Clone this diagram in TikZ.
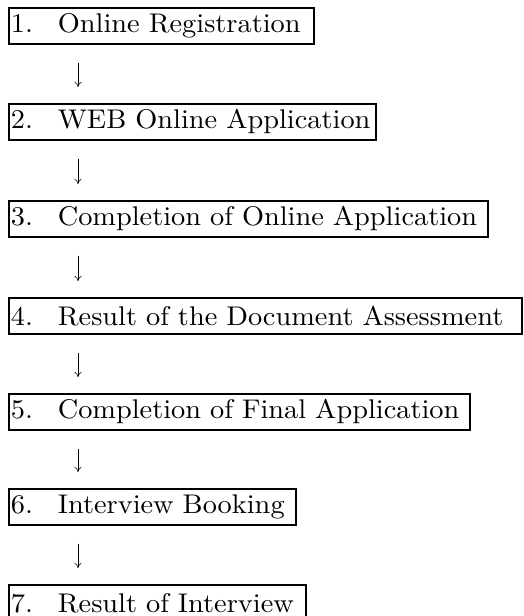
\documentclass[tikz,border=0pt]{standalone}
\usepackage{fontspec}
\setmainfont{lmroman10-regular.otf}[FakeStretch=1.05]
\usetikzlibrary{arrows.meta}
\tikzset{
	paso/.style={draw, line width=1.7pt, anchor=north west, inner xsep=2pt, inner ysep=0pt,
		minimum height=36pt, align=left, font=\fontsize{27}{30}\selectfont},
	flecha/.style={-{To[length=5pt,width=7pt]}, line width=0.6pt, shorten <=18pt, shorten >=16pt}
}
\newcommand{\num}[1]{\makebox[47pt][l]{#1}}
\begin{document}
\begin{tikzpicture}[x=1pt, y=-1pt]
		% Marco
			\useasboundingbox (0,0) rectangle (523,616);
			\clip (0,0) rectangle (523,616);
		% Pasos
			\node[paso, text width=301pt] (p1) at (8,7) {\mbox{\num{1.}Online Registration}};
			\node[paso, text width=363pt] (p2) at (8,103) {\mbox{\num{2.}WEB Online Application}};
			\node[paso, text width=475pt] (p3) at (8,200) {\mbox{\num{3.}Completion of Online Application}};
			\node[paso, text width=509pt] (p4) at (8,297) {\mbox{\num{4.}Result of the Document Assessment}};
			\node[paso, text width=457pt] (p5) at (8,393) {\mbox{\num{5.}Completion of Final Application}};
			\node[paso, text width=283pt] (p6) at (8,488) {\mbox{\num{6.}Interview Booking}};
			\node[paso, text width=293pt] (p7) at (8,584) {\mbox{\num{7.}Result of Interview}};
		% Flechas
			\foreach \a/\b in {p1/p2, p2/p3, p3/p4, p4/p5, p5/p6, p6/p7}
				\draw[flecha] ([xshift=70pt]\a.south west) -- ([xshift=70pt]\b.north west);
	\end{tikzpicture}
\end{document}
